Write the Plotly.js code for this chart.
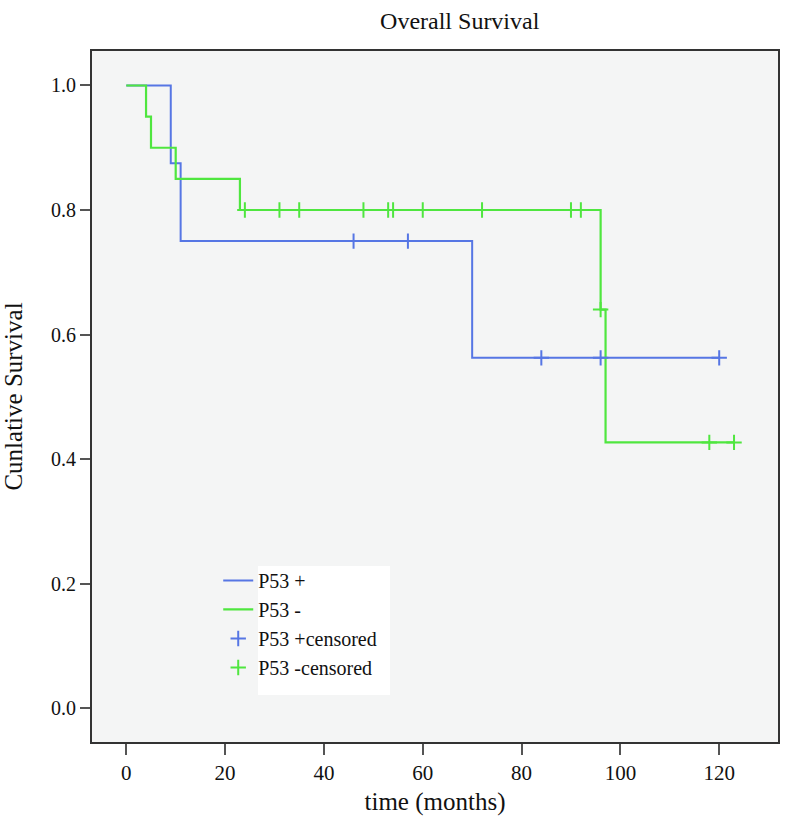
<!DOCTYPE html>
<html>
<head>
<meta charset="utf-8">
<script src="https://cdn.plot.ly/plotly-3.0.1.min.js"></script>
<style>html,body{margin:0;padding:0;background:#fff;}#chart{width:794px;height:836px;}</style>
</head>
<body>
<div id="chart"></div>
<script>
// Kaplan-Meier step curves (time in months, cumulative survival)
var posTime = [0, 9, 11, 70, 120];
var posSurv = [1.0, 0.875, 0.75, 0.5625, 0.5625];
var negTime = [0, 4, 5, 10, 23, 96, 97, 123];
var negSurv = [1.0, 0.95, 0.90, 0.85, 0.80, 0.64, 0.4267, 0.4267];

// censored observations
var posCensTime = [46, 57, 84, 96, 120];
var posCensSurv = [0.75, 0.75, 0.5625, 0.5625, 0.5625];
var negCensTime = [24, 31, 35, 48, 53, 54, 60, 72, 90, 92, 96, 118, 123];
var negCensSurv = [0.8, 0.8, 0.8, 0.8, 0.8, 0.8, 0.8, 0.8, 0.8, 0.8, 0.64, 0.4267, 0.4267];

var xTicks = [0, 20, 40, 60, 80, 100, 120];
var yTicks = [0.0, 0.2, 0.4, 0.6, 0.8, 1.0];
var yTickText = ['0.0', '0.2', '0.4', '0.6', '0.8', '1.0'];

var seriesNames = ['P53 +', 'P53 -', 'P53 +censored', 'P53 -censored'];

var blue = '#5676e4';
var green = '#4fe63f';
var font = 'Liberation Serif, serif';

var traces = [
  {x: posTime, y: posSurv, name: seriesNames[0], mode: 'lines', line: {shape: 'hv', color: blue, width: 2}},
  {x: negTime, y: negSurv, name: seriesNames[1], mode: 'lines', line: {shape: 'hv', color: green, width: 2.2}},
  {x: posCensTime, y: posCensSurv, name: seriesNames[2], mode: 'markers',
   marker: {symbol: 'cross-thin-open', size: 11, color: blue, line: {color: blue, width: 2}}},
  {x: negCensTime, y: negCensSurv, name: seriesNames[3], mode: 'markers',
   marker: {symbol: 'cross-thin-open', size: 11, color: green, line: {color: green, width: 2}}}
];

var layout = {
  width: 794, height: 836,
  margin: {l: 92, r: 16, t: 51, b: 94},
  paper_bgcolor: '#ffffff',
  plot_bgcolor: '#f4f5f5',
  font: {family: font, color: '#111', size: 20},
  title: {text: 'Overall Survival', font: {family: font, size: 24, color: '#111'},
          x: 0.579, xref: 'container', xanchor: 'center', y: 0.986, yref: 'container', yanchor: 'top'},
  xaxis: {
    range: [-6.94, 131.9], tickmode: 'array', tickvals: xTicks, ticktext: xTicks.map(String),
    ticks: 'outside', ticklen: 11, tickwidth: 2, tickcolor: '#555',
    showline: true, linecolor: '#333', linewidth: 2, mirror: true,
    showgrid: false, zeroline: false,
    tickfont: {family: font, size: 21, color: '#111'},
    title: {text: 'time (months)', font: {family: font, size: 25, color: '#111'}, standoff: 8}
  },
  yaxis: {
    range: [-0.0546, 1.0554], tickmode: 'array', tickvals: yTicks, ticktext: yTickText,
    ticks: 'outside', ticklen: 10, tickwidth: 2, tickcolor: '#555',
    showline: true, linecolor: '#333', linewidth: 2, mirror: true,
    showgrid: false, zeroline: false,
    tickfont: {family: font, size: 20, color: '#111'},
    title: {text: 'Cunlative Survival', font: {family: font, size: 25, color: '#111'}, standoff: 24}
  },
  showlegend: true,
  legend: {
    x: 0.184, y: 0.262, xanchor: 'left', yanchor: 'top', xref: 'paper', yref: 'paper',
    bgcolor: 'rgba(0,0,0,0)', borderwidth: 0, traceorder: 'normal',
    font: {family: font, size: 20, color: '#111'}, itemwidth: 30, tracegroupgap: 0
  },
  shapes: [
    {type: 'rect', xref: 'paper', yref: 'paper', layer: 'above',
     x0: (258 - 92) / 686, x1: (390 - 92) / 686, y0: (742 - 695) / 691, y1: (742 - 566) / 691,
     fillcolor: '#ffffff', line: {width: 0}}
  ]
};

Plotly.newPlot('chart', traces, layout, {displayModeBar: false, staticPlot: true});
</script>
</body>
</html>
